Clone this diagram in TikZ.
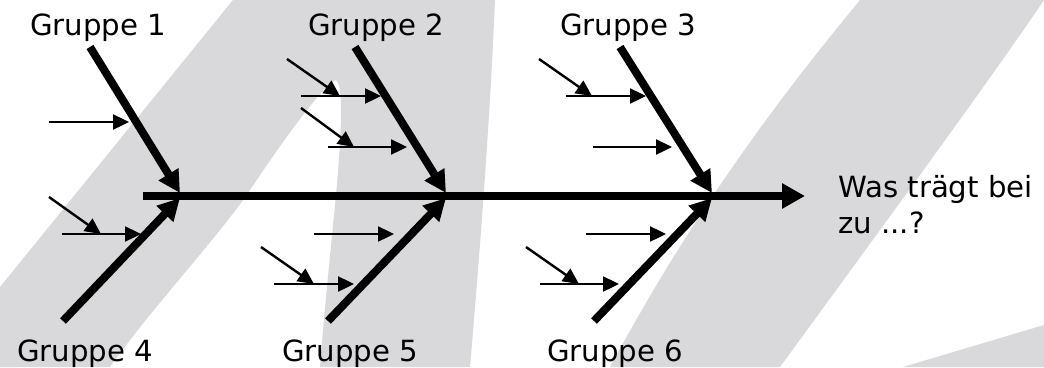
\documentclass[tikz,border=0pt]{standalone}
\usepackage{fontspec}
\setmainfont{DejaVu Sans}
\usetikzlibrary{arrows.meta}
\definecolor{bandgrey}{RGB}{217,217,219}
\begin{document}
\begin{tikzpicture}[x=1pt,y=-1pt,
  bone/.style={line width=8pt,-{Triangle[length=22pt,width=22pt]}},
  spineline/.style={line width=8pt,-{Triangle[length=23pt,width=24pt]}},
  twig/.style={line width=2.4pt,-{Triangle[length=16pt,width=15pt]}},
  lab/.style={anchor=base west,inner sep=0pt,font=\fontsize{29.2}{36}\selectfont},
  band/.style={fill=bandgrey,draw=none}]
\useasboundingbox (0,0) rectangle (1044,367);
\fill[white] (0,0) rectangle (1044,367);
% background watermark bands
\path[band] (0,287) -- (233,0) -- (495,0) .. controls (490,120) and (480,250) .. (470,367)
  -- (320,367) .. controls (328,260) and (341,170) .. (341,110)
  .. controls (341,92) and (339,82) .. (336,80)
  .. controls (325,84) and (290,130) .. (250,190)
  .. controls (220,235) and (150,310) .. (110,367) -- (0,367) -- cycle;
\path[band] (860,0) -- (1044,0) .. controls (990,80) and (880,230) .. (780,367)
  -- (610,367) .. controls (700,200) and (790,85) .. (860,0) -- cycle;
\path[band] (903,367) -- (1044,325) -- (1044,367) -- cycle;
% coordinates
\coordinate (sp0) at (143,196);
\coordinate (sp1) at (805,196);
\coordinate (b1s) at (90,47);   \coordinate (b1e) at (180,193);
\coordinate (b2s) at (355,47);  \coordinate (b2e) at (446,193);
\coordinate (b3s) at (620,47);  \coordinate (b3e) at (712,193);
\coordinate (b4s) at (63,321);  \coordinate (b4e) at (180,198);
\coordinate (b5s) at (328,321); \coordinate (b5e) at (446,198);
\coordinate (b6s) at (594,321); \coordinate (b6e) at (712,198);
% twigs group 1
\coordinate (t1a) at (49,122);  \coordinate (t1b) at (129,122);
% group 4
\coordinate (t4a) at (49,197);  \coordinate (t4b) at (101,234);
\coordinate (t4c) at (62,234);  \coordinate (t4d) at (141,234);
% group 2
\coordinate (t2a) at (287,59);  \coordinate (t2b) at (340,96);
\coordinate (t2c) at (301,96);  \coordinate (t2d) at (381,96);
\coordinate (t2e) at (301,108); \coordinate (t2f) at (354,147);
\coordinate (t2g) at (328,147); \coordinate (t2h) at (407,147);
% group 5
\coordinate (t5a) at (314,234); \coordinate (t5b) at (394,234);
\coordinate (t5c) at (261,247); \coordinate (t5d) at (314,284);
\coordinate (t5e) at (274,284); \coordinate (t5f) at (354,284);
% group 3
\coordinate (t3a) at (539,59);  \coordinate (t3b) at (592,96);
\coordinate (t3c) at (566,96);  \coordinate (t3d) at (646,96);
\coordinate (t3e) at (593,147); \coordinate (t3f) at (672,147);
% group 6
\coordinate (t6a) at (586,234); \coordinate (t6b) at (666,234);
\coordinate (t6c) at (526,247); \coordinate (t6d) at (579,284);
\coordinate (t6e) at (540,284); \coordinate (t6f) at (619,284);
% spine and bones
\draw[spineline] (sp0) -- (sp1);
\foreach \i in {1,...,6} {\draw[bone] (b\i s) -- (b\i e);}
% twigs
\draw[twig] (t1a) -- (t1b);
\draw[twig] (t4a) -- (t4b);
\draw[twig] (t4c) -- (t4d);
\draw[twig] (t2a) -- (t2b);
\draw[twig] (t2c) -- (t2d);
\draw[twig] (t2e) -- (t2f);
\draw[twig] (t2g) -- (t2h);
\draw[twig] (t5a) -- (t5b);
\draw[twig] (t5c) -- (t5d);
\draw[twig] (t5e) -- (t5f);
\draw[twig] (t3a) -- (t3b);
\draw[twig] (t3c) -- (t3d);
\draw[twig] (t3e) -- (t3f);
\draw[twig] (t6a) -- (t6b);
\draw[twig] (t6c) -- (t6d);
\draw[twig] (t6e) -- (t6f);
% labels
\node[lab] (g1) at (30,35) {Gruppe 1};
\node[lab] (g2) at (308,35) {Gruppe 2};
\node[lab] (g3) at (560,35) {Gruppe 3};
\node[lab] (g4) at (17,361) {Gruppe 4};
\node[lab] (g5) at (282,361) {Gruppe 5};
\node[lab] (g6) at (547,361) {Gruppe 6};
\node[lab,align=left] (goal) at (838,233) {Was trägt bei\\zu ...?};
\end{tikzpicture}
\end{document}
